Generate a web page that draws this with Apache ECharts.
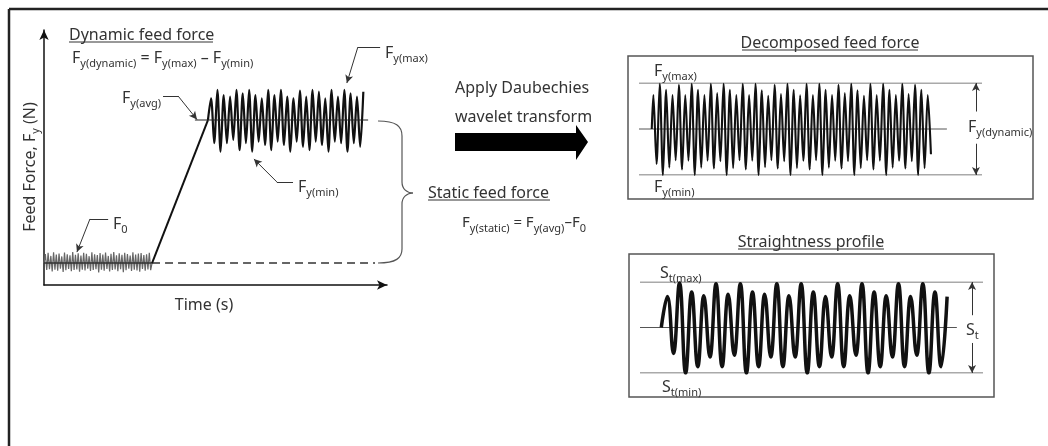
<!DOCTYPE html>
<html>
<head>
<meta charset="utf-8">
<script src="https://cdn.jsdelivr.net/npm/echarts@6/dist/echarts.min.js"></script>
<style>html,body{margin:0;padding:0;background:#fff}#c{width:1048px;height:446px}</style>
</head>
<body>
<div id="c"></div>
<script>
// ---------------- DATA ----------------
// Main schematic (Time 0..100, Feed force 0..100 in arbitrary units)
const f0Level = 8.6;            // F0 baseline
const fAvgLevel = 64.7;         // Fy(avg)
const noiseEnd = 31.5;          // time where the idle noise stops / ramp starts
const rampEnd = 47.8;           // time where ramp reaches Fy(avg)
const avgLineRange = [44, 94.5];
const dashedRange = [31.5, 96.5];
const noiseValues = [8.6, 12.1, 5.9, 12.6, 6.2, 11.4, 5.3, 12.8, 6.0, 11.9, 5.6, 12.3, 6.4, 11.2, 5.1, 12.7,
  5.8, 12.0, 6.3, 11.6, 5.4, 12.9, 5.9, 11.8, 6.1, 12.4, 5.2, 11.5, 6.0, 12.6, 5.7, 12.2, 6.4, 11.3, 5.5,
  12.8, 5.9, 12.0, 6.2, 11.7, 4.9, 12.5, 6.0, 11.9, 5.6, 12.7, 6.3, 11.4, 5.3, 12.2, 5.9, 12.9, 6.1, 11.6,
  5.4, 12.4, 6.2, 11.8, 5.0, 12.6, 5.8, 12.1, 6.4, 11.5, 5.5, 12.8, 6.0, 11.9, 5.7, 12.3, 5.2, 12.5, 6.3,
  11.7, 5.6, 12.0, 6.1, 12.6, 5.8, 8.6];
const dynPeaks = [73.2, 76.5, 74.5, 73.9, 76.5, 75.2, 76.5, 74.5, 73.2, 76.5, 74.5, 76.5, 73.9, 73.2,
  76.2, 73.9, 76.5, 75.8, 73.2, 76.5, 73.9, 76.5, 75.2, 73.9, 75.8];
const dynTroughs = [55.6, 52.3, 55.6, 56.9, 52.9, 55.6, 52.3, 56.2, 54.9, 52.9, 56.2, 54.9, 52.3, 56.2,
  54.2, 52.9, 56.2, 54.9, 52.3, 56.2, 55.6, 52.3, 55.6, 54.2];
const dynFirst = 48.7, dynStep = 0.925;
// leader lines [x,y] points: horizontal start, knee, arrow tip
const leaders = [
  [[98.0, 93.3], [91.5, 93.3], [88.3, 79.2]],   // Fy(max)
  [[34.7, 74.1], [39.1, 74.1], [44.6, 64.9]],   // Fy(avg)
  [[72.6, 40.4], [67.9, 40.4], [61.2, 49.4]],   // Fy(min)
  [[18.7, 25.9], [13.4, 25.9], [9.6, 12.9]]     // F0
];

// Decomposed feed force (units: Fy(max)=10, Fy(min)=-10; x in half-cycles)
const decPeaks = [7.4, 9.8, 8.5, 7.4, 9.6, 7.4, 9.8, 8.5, 7.4, 9.8, 7.8, 9.8, 8.5, 7.4, 9.8, 7.4, 9.8, 8.4,
  7.2, 9.6, 7.6, 9.8, 8.5, 7.3, 9.8, 7.4, 9.8, 8.5, 7.4, 9.6, 7.8, 9.8, 8.4, 7.2, 9.8, 7.4, 9.8, 8.5, 7.4,
  9.8, 7.6, 9.6, 8.5, 7.4];
const decTroughs = [-7.6, -10, -8.4, -6.8, -8.8, -6.9, -10, -8.4, -6.9, -8.6, -7.0, -10, -8.5, -6.8, -8.8,
  -6.9, -10, -8.3, -6.8, -8.6, -7.0, -10, -8.5, -6.9, -8.8, -6.8, -10, -8.4, -6.9, -8.6, -7.0, -10, -8.5,
  -6.8, -8.8, -6.9, -10, -8.4, -6.9, -8.6, -7.0, -10, -8.5, -5.5];
const decStart = 4, decMax = 107.5, decMidEnd = 96.5, decArrowX = 105.6, decGap = [3.8, -3.2];

// Straightness profile (units: St(max)=10, St(min)=-10; x in half-cycles)
const stPeaks = [6.8, 9.8, 7.8, 7.0, 9.6, 7.3, 9.6, 7.8, 7.3, 9.6, 7.0, 9.6, 7.8, 6.8, 9.6, 7.0, 9.6, 7.8,
  7.0, 9.6, 6.8, 9.6, 7.8, 6.8];
const stTroughs = [-5.7, -10, -8.6, -6.5, -8.6, -6.1, -10, -8.6, -6.5, -8.6, -6.5, -10, -8.6, -6.5, -8.6,
  -6.1, -10, -8.6, -6.5, -8.6, -6.1, -10, -8.6];
const stStart = 3.5, stMax = 56.4, stMidEnd = 52.1, stArrowX = 54.6, stGap = [2.7, -3.4];

// ---------------- BUILD ----------------
function interleave(p, t) {
  const out = [];
  for (let i = 0; i < p.length; i++) { out.push(p[i]); if (i < t.length) out.push(t[i]); }
  return out;
}
function waveData(startX, startY, firstX, step, values) {
  const d = [[startX, startY]];
  values.forEach((v, i) => d.push([firstX + i * step, v]));
  return d;
}
const noiseData = noiseValues.map((v, i) => [i * noiseEnd / (noiseValues.length - 1), v]);
const dynData = waveData(rampEnd, fAvgLevel, dynFirst, dynStep, interleave(dynPeaks, dynTroughs));
const decData = waveData(decStart, 0, decStart + 0.5, 1, interleave(decPeaks, decTroughs));
const stData = waveData(stStart, 0, stStart + 1, 1, interleave(stPeaks, stTroughs));

const leaderML = [];
leaders.forEach(l => {
  leaderML.push([{ coord: l[0], symbol: 'none' }, { coord: l[1], symbol: 'none' }]);
  leaderML.push([{ coord: l[1], symbol: 'none' }, { coord: l[2], symbol: 'arrow', symbolSize: [6, 8] }]);
});
function dimArrow(x, gap) {
  return [
    [{ coord: [x, gap[0]], symbol: 'none' }, { coord: [x, 10], symbol: 'arrow', symbolSize: [6, 8] }],
    [{ coord: [x, gap[1]], symbol: 'none' }, { coord: [x, -10], symbol: 'arrow', symbolSize: [6, 8] }]
  ];
}

const FONT = "'Noto Sans', 'DejaVu Sans', sans-serif";
const TXT = '#333';
const rich = { s: { fontSize: 11, lineHeight: 12, verticalAlign: 'bottom', fontFamily: FONT, fill: TXT } };
function label(x, y, text, o) {
  o = o || {};
  return { type: 'text', x: x, y: y, rotation: o.rot || 0, silent: true, z: 100,
    style: { text: text, fontSize: o.size || 16, fontFamily: FONT, fill: TXT, lineHeight: 22,
      align: o.align || 'left', verticalAlign: 'middle', rich: rich } };
}
function hline(x1, x2, y, w, c) {
  return { type: 'line', silent: true, z: 100, shape: { x1: x1, y1: y, x2: x2, y2: y },
    style: { stroke: c || TXT, lineWidth: w || 1 } };
}
function bez(a, b, c1, c2) {
  return { type: 'bezierCurve', silent: true, z: 100,
    shape: { x1: a[0], y1: a[1], x2: b[0], y2: b[1], cpx1: c1[0], cpy1: c1[1], cpx2: c2[0], cpy2: c2[1] },
    style: { stroke: '#555', lineWidth: 1.2, fill: null } };
}

const hidden = { show: false };
const plainAxis = (extra) => Object.assign({ type: 'value', axisTick: hidden, axisLabel: hidden, splitLine: hidden }, extra);

const ref = (grid, from, to, y) => ({
  type: 'line', xAxisIndex: grid, yAxisIndex: grid, data: [[from, y], [to, y]], symbol: 'none',
  lineStyle: { color: '#555', width: 1 }, silent: true, z: 2
});
const dimML = (arr) => ({ silent: true, symbol: ['none', 'none'], label: hidden, animation: false,
  lineStyle: { color: '#333', width: 1, type: 'solid' }, emphasis: { disabled: true }, data: arr });

const option = {
  animation: false,
  backgroundColor: '#fff',
  grid: [
    { left: 44, top: 30, width: 343, height: 255 },
    { left: 639, top: 83, width: 343, height: 92 },
    { left: 640, top: 282, width: 343, height: 91 }
  ],
  xAxis: [
    plainAxis({ gridIndex: 0, min: 0, max: 100,
      axisLine: { show: true, symbol: ['none', 'arrow'], symbolSize: [7, 10], lineStyle: { color: '#111', width: 1.5 } } }),
    plainAxis({ gridIndex: 1, min: 0, max: decMax, show: false }),
    plainAxis({ gridIndex: 2, min: 0, max: stMax, show: false })
  ],
  yAxis: [
    plainAxis({ gridIndex: 0, min: 0, max: 100,
      axisLine: { show: true, symbol: ['none', 'arrow'], symbolSize: [7, 10], lineStyle: { color: '#111', width: 1.5 } } }),
    plainAxis({ gridIndex: 1, min: -10, max: 10, show: false }),
    plainAxis({ gridIndex: 2, min: -10, max: 10, show: false })
  ],
  series: [
    // main chart
    { type: 'line', name: 'noise', data: noiseData, symbol: 'none', lineStyle: { color: '#666', width: 1.2 }, z: 3 },
    { type: 'line', name: 'F0', data: [[0, f0Level], [noiseEnd, f0Level]], symbol: 'none', lineStyle: { color: '#333', width: 1.5 }, z: 4 },
    { type: 'line', name: 'static', data: [[dashedRange[0], f0Level], [dashedRange[1], f0Level]], symbol: 'none',
      lineStyle: { color: '#333', width: 1.5, type: [8, 5] }, z: 4 },
    { type: 'line', name: 'ramp', data: [[noiseEnd, f0Level], [rampEnd, fAvgLevel]], symbol: 'none', lineStyle: { color: '#111', width: 2 }, z: 5 },
    { type: 'line', name: 'dynamic', data: dynData, symbol: 'none', smooth: 0.3, lineStyle: { color: '#111', width: 2.2 }, z: 5 },
    { type: 'line', name: 'avg', data: [[avgLineRange[0], fAvgLevel], [avgLineRange[1], fAvgLevel]], symbol: 'none',
      lineStyle: { color: '#222', width: 1 }, z: 6, markLine: dimML(leaderML) },
    // decomposed feed force
    ref(1, 0, decMax, 10), ref(1, 0, decMax, -10), ref(1, 0, decMidEnd, 0),
    { type: 'line', xAxisIndex: 1, yAxisIndex: 1, data: decData, symbol: 'none', smooth: 0.3,
      lineStyle: { color: '#111', width: 2.1 }, z: 3, markLine: dimML(dimArrow(decArrowX, decGap)) },
    // straightness profile
    ref(2, 0, stMax, 10), ref(2, 0, stMax, -10), ref(2, 0, stMidEnd, 0),
    { type: 'line', xAxisIndex: 2, yAxisIndex: 2, data: stData, symbol: 'none', smooth: 0.45,
      lineStyle: { color: '#111', width: 3.5 }, z: 3, markLine: dimML(dimArrow(stArrowX, stGap)) }
  ],
  graphic: [
    // outer frame (left & top)
    { type: 'line', silent: true, shape: { x1: 9, y1: 9, x2: 1048, y2: 9 }, style: { stroke: '#222', lineWidth: 2.5 } },
    { type: 'line', silent: true, shape: { x1: 9, y1: 9, x2: 9, y2: 446 }, style: { stroke: '#222', lineWidth: 2.5 } },
    // boxes
    { type: 'rect', silent: true, shape: { x: 628, y: 56, width: 405, height: 143 }, style: { stroke: '#555', lineWidth: 1.5, fill: null } },
    { type: 'rect', silent: true, shape: { x: 629, y: 254, width: 365, height: 143 }, style: { stroke: '#555', lineWidth: 1.5, fill: null } },
    // big arrow
    { type: 'polygon', silent: true, shape: { points: [[455, 133], [576, 133], [576, 125], [588, 142], [576, 160], [576, 151], [455, 151]] },
      style: { fill: '#000' } },
    // brace
    bez([378, 121], [402, 136], [396, 121], [402, 126]),
    { type: 'line', silent: true, shape: { x1: 402, y1: 136, x2: 402, y2: 182 }, style: { stroke: '#555', lineWidth: 1.2 } },
    bez([402, 182], [413, 193], [402, 189], [407, 193]),
    bez([413, 193], [402, 204], [407, 193], [402, 197]),
    { type: 'line', silent: true, shape: { x1: 402, y1: 204, x2: 402, y2: 249 }, style: { stroke: '#555', lineWidth: 1.2 } },
    bez([402, 249], [378, 263], [402, 258], [396, 263]),
    // texts
    label(69, 35, 'Dynamic feed force'), hline(69, 213, 42),
    label(72, 58, 'F{s|y(dynamic)} = F{s|y(max)} – F{s|y(min)}'),
    label(385, 53, 'F{s|y(max)}'),
    label(122, 98, 'F{s|y(avg)}'),
    label(298, 187, 'F{s|y(min)}'),
    label(113, 224, 'F{s|0}'),
    label(30, 167, 'Feed Force, F{s|y} (N)', { rot: Math.PI / 2, align: 'center' }),
    label(204, 305, 'Time (s)', { align: 'center' }),
    label(455, 88, 'Apply Daubechies'),
    label(455, 117, 'wavelet transform'),
    label(428, 193, 'Static feed force'), hline(428, 550, 200),
    label(462, 223, 'F{s|y(static)} = F{s|y(avg)}–F{s|0}', { size: 15 }),
    label(830, 43, 'Decomposed feed force', { align: 'center' }), hline(742, 918, 50),
    label(654, 71, 'F{s|y(max)}'),
    label(654, 187, 'F{s|y(min)}'),
    label(968, 127, 'F{s|y(dynamic)}'),
    label(811, 242, 'Straightness profile', { align: 'center' }), hline(738, 884, 249),
    label(660, 273, 'S{s|t(max)}'),
    label(662, 387, 'S{s|t(min)}'),
    label(966, 330, 'S{s|t}')
  ]
};
const chart = echarts.init(document.getElementById('c'));
chart.setOption(option);
</script>
</body>
</html>
